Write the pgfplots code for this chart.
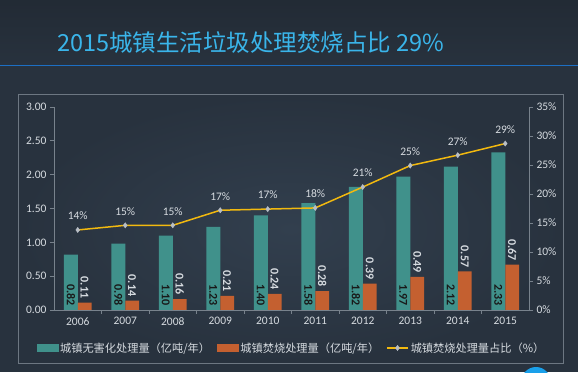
\documentclass[border=0pt]{standalone}
\usepackage{pgfplots}
\pgfplotsset{compat=1.18}
\usepackage{pgfplotstable}
\usepackage{fontspec}
\setmainfont{Carlito}
\newfontfamily\cjk{Noto Sans CJK SC}
\definecolor{bgc}{RGB}{40,50,62}
\definecolor{bgin}{RGB}{50,63,78}
\definecolor{framec}{RGB}{109,119,130}
\definecolor{axgray}{RGB}{120,130,140}
\definecolor{lblc}{RGB}{214,219,224}
\definecolor{titlec}{RGB}{58,181,234}
\definecolor{linec}{RGB}{29,111,196}
\definecolor{tealc}{RGB}{64,145,139}
\definecolor{orangec}{RGB}{196,96,48}
\definecolor{yellowc}{RGB}{242,185,15}
\definecolor{markc}{RGB}{184,190,198}
\definecolor{circc}{RGB}{26,160,234}

\pgfplotsset{
  lineleg/.style={legend image code/.code={\draw[mark repeat=2, mark phase=2, ##1] plot coordinates {(0pt,0pt) (10.5pt,0pt) (21pt,0pt)};}},
  tealleg/.style={legend image code/.code={\fill[tealc] (0pt,-3.5pt) rectangle (21pt,3.5pt);}},
  orangeleg/.style={legend image code/.code={\fill[orangec] (0pt,-3.5pt) rectangle (21pt,3.5pt);}},
}

\pgfplotstableread{
x harm inc ratio rlbl
0 0.82 0.11 13.8 14\%
1 0.98 0.14 14.6 15\%
2 1.10 0.16 14.6 15\%
3 1.23 0.21 17.2 17\%
4 1.40 0.24 17.4 17\%
5 1.58 0.28 17.6 18\%
6 1.82 0.39 21.2 21\%
7 1.97 0.49 24.9 25\%
8 2.12 0.57 26.7 27\%
9 2.33 0.67 28.7 29\%
}\data

\begin{document}
\begin{tikzpicture}
\useasboundingbox (0,0) rectangle (578pt,372pt);
\clip (0,0) rectangle (578pt,372pt);
\fill[bgc] (0,0) rectangle (578pt,372pt);
\shade[top color=bgc!85!black, bottom color=bgc] (0,306pt) rectangle (578pt,372pt);
\shade[inner color=bgin, outer color=bgc] (18pt,9pt) rectangle (563pt,277pt);
\draw[framec, line width=1pt] (18pt,9pt) rectangle (563pt,277pt);
\draw[linec, line width=1pt] (0,306pt) -- (578pt,306pt);
\node[anchor=west, text=titlec, font=\cjk\fontsize{23.5}{28}\selectfont, inner sep=0pt] at (57pt,329pt) {2015城镇生活垃圾处理焚烧占比 29\%};
\fill[circc] (536pt,-9.6pt) circle (14.6pt);

\begin{axis}[
  at={(54pt,62pt)}, anchor=south west,
  scale only axis, width=475pt, height=203pt,
  xmin=-0.5, xmax=9.5, ymin=0, ymax=3,
  axis x line*=bottom, axis y line*=left,
  axis line style={draw=axgray, line width=0.8pt},
  tick align=outside,
  xtick={0,...,9}, xticklabels={2006,2007,2008,2009,2010,2011,2012,2013,2014,2015},
  major x tick style={draw=none},
  minor xtick={0.5,1.5,...,8.5},
  minor x tick style={draw=axgray, line width=0.8pt},
  minor tick length=4pt,
  ytick={0,0.5,...,3},
  major tick length=4pt,
  y tick style={draw=axgray, line width=0.8pt},
  yticklabel style={/pgf/number format/.cd, fixed, fixed zerofill, precision=2},
  /pgf/number format/assume math mode=true,
  tick label style={text=lblc, font=\fontsize{11.5}{13}\selectfont},
  clip=false,
]
\addplot[ybar, bar width=0.29, bar shift=-0.145, fill=tealc, draw=none] table[x=x, y=harm] {\data};
\addplot[ybar, bar width=0.29, bar shift=0.145, fill=orangec, draw=none] table[x=x, y=inc] {\data};
\addplot[draw=none, mark=none, nodes near coords, point meta=explicit symbolic,
  nodes near coords style={rotate=-90, anchor=east, inner xsep=4pt, inner ysep=0pt, text=black!90, font=\bfseries\fontsize{12}{13}\selectfont}]
  table[x expr=\thisrow{x}-0.145, y expr=0, meta=harm] {\data};
\addplot[draw=none, mark=none, nodes near coords, point meta=explicit symbolic,
  nodes near coords style={rotate=-90, anchor=east, inner xsep=4pt, inner ysep=0pt, text=lblc, font=\bfseries\fontsize{12}{13}\selectfont}]
  table[x expr=\thisrow{x}+0.145, y=inc, meta=inc] {\data};
\end{axis}

\begin{axis}[
  at={(54pt,62pt)}, anchor=south west,
  scale only axis, width=475pt, height=203pt,
  xmin=-0.5, xmax=9.5, ymin=0, ymax=35,
  axis x line=none, axis y line*=right,
  axis line style={draw=axgray, line width=0.8pt},
  tick align=outside,
  ytick={0,5,...,35},
  yticklabel={\pgfmathprintnumber{\tick}\%},
  major tick length=4pt,
  y tick style={draw=axgray, line width=0.8pt},
  /pgf/number format/assume math mode=true,
  tick label style={text=lblc, font=\fontsize{11.5}{13}\selectfont},
  clip=false,
  legend style={at={(0.5,-0.187)}, anchor=center, draw=none, fill=none,
    text=lblc, font=\cjk\fontsize{11.2}{13}\selectfont, legend columns=3,
    /tikz/every even column/.append style={column sep=5pt}},
]
\addlegendimage{tealleg}
\addlegendentry{城镇无害化处理量（亿吨/年）}
\addlegendimage{orangeleg}
\addlegendentry{城镇焚烧处理量（亿吨/年）}
\addplot[yellowc, line width=1.5pt, mark=diamond*, mark size=2.6pt,
  mark options={fill=markc, draw=markc, line width=0.4pt},
  nodes near coords, point meta=explicit symbolic,
  nodes near coords style={anchor=center, yshift=14pt, text=lblc, font=\fontsize{11.5}{13}\selectfont},
  lineleg]
  table[x=x, y=ratio, meta=rlbl] {\data};
\addlegendentry{城镇焚烧处理量占比（\%）}
\end{axis}
\end{tikzpicture}
\end{document}
